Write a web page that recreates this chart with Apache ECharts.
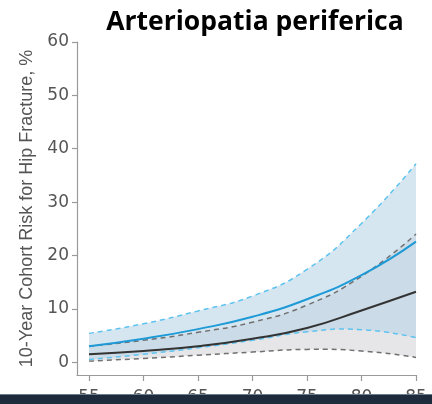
<!DOCTYPE html>
<html><head><meta charset="utf-8">
<script src="https://cdn.jsdelivr.net/npm/echarts@6/dist/echarts.min.js"></script>
<style>html,body{margin:0;padding:0;background:#fff}#c{width:432px;height:404px}</style>
</head><body><div id="c"></div>
<script>
const ages = [55, 60, 65, 70, 75, 80, 85];
const xTicks = [55, 60, 65, 70, 75, 80, 85];
const yTicks = [0, 10, 20, 30, 40, 50, 60];
const padMean = [3.0, 4.4, 6.2, 8.5, 11.8, 16.3, 22.6];
const padUpper = [5.4, 7.2, 9.6, 12.4, 17.4, 26.0, 37.2];
const padLower = [0.5, 1.5, 2.7, 4.1, 5.7, 6.1, 4.6];
const refMean = [1.5, 2.1, 3.0, 4.4, 6.4, 9.7, 13.2];
const refUpper = [3.0, 4.1, 5.6, 7.5, 10.7, 16.1, 24.0];
const refLower = [0.2, 0.7, 1.3, 1.9, 2.4, 2.1, 0.9];

// smooth curve through pixel points (same scheme as ECharts line smoothing)
function curve(pts, start, smooth) {
  smooth = smooth == null ? 0.5 : smooth;
  let d = start + pts[0][0] + ' ' + pts[0][1];
  let cp0 = pts[0];
  for (let i = 1; i < pts.length; i++) {
    const cur = pts[i], prev = pts[i - 1];
    let cp1 = cur, ncp0 = cur;
    if (i < pts.length - 1) {
      const next = pts[i + 1];
      const vx = next[0] - prev[0], vy = next[1] - prev[1];
      const l0 = Math.hypot(cur[0] - prev[0], cur[1] - prev[1]);
      const l1 = Math.hypot(next[0] - cur[0], next[1] - cur[1]);
      const r = l1 / (l0 + l1);
      cp1 = [cur[0] - vx * smooth * (1 - r), cur[1] - vy * smooth * (1 - r)];
      ncp0 = [cur[0] + vx * smooth * r, cur[1] + vy * smooth * r];
    }
    d += ' C' + cp0[0] + ' ' + cp0[1] + ' ' + cp1[0] + ' ' + cp1[1] + ' ' + cur[0] + ' ' + cur[1];
    cp0 = ncp0;
  }
  return d;
}
const toPx = (api, arr) => ages.map((a, i) => api.coord([a, arr[i]]));

function bandSeries(hi, lo, fill, opacity, z) {
  return {
    type: 'custom', coordinateSystem: 'cartesian2d', silent: true, z: z,
    data: [[ages[0], lo[0]]],
    renderItem: (params, api) => {
      const up = toPx(api, hi);
      const dn = toPx(api, lo).reverse();
      const d = curve(up, 'M') + ' ' + curve(dn, 'L') + ' Z';
      return { type: 'path', shape: { pathData: d }, style: { fill: fill, opacity: opacity, stroke: null } };
    }
  };
}
function lineSeries(arr, color, width, dash, z) {
  return {
    type: 'custom', coordinateSystem: 'cartesian2d', silent: true, z: z,
    data: [[ages[0], arr[0]]],
    renderItem: (params, api) => {
      const d = curve(toPx(api, arr), 'M');
      return { type: 'path', shape: { pathData: d },
        style: { fill: 'none', stroke: color, lineWidth: width, lineDash: dash || null, lineCap: 'butt' } };
    }
  };
}

const chart = echarts.init(document.getElementById('c'));
const dash = [5, 4];
const labelFont = { fontFamily: 'DejaVu Sans', fontSize: 17, color: '#555' };
chart.setOption({
  animation: false,
  title: {
    text: 'Arteriopatia periferica',
    left: 255, top: 9, textAlign: 'center', padding: 0,
    textStyle: { fontFamily: 'Open Sans', fontWeight: 'bold', fontSize: 26.5, color: '#000' }
  },
  grid: { left: 77, right: 16, top: 42, bottom: 29, containLabel: false, outerBoundsMode: 'none' },
  xAxis: {
    type: 'value', min: 53.9, max: 85,
    axisLine: { show: true, onZero: false, lineStyle: { color: '#9a9a9a', width: 1.2 } },
    axisTick: { show: true, customValues: xTicks, length: 6, lineStyle: { color: '#9a9a9a', width: 1.2 } },
    axisLabel: Object.assign({ customValues: xTicks, margin: 14 }, labelFont),
    splitLine: { show: false }
  },
  yAxis: {
    type: 'value', min: -2.4, max: 60,
    name: '10-Year Cohort Risk for Hip Fracture, %',
    nameLocation: 'middle', nameGap: 41, nameRotate: 90,
    nameTextStyle: { fontFamily: 'Liberation Sans', fontSize: 18, color: '#555' },
    axisLine: { show: true, onZero: false, lineStyle: { color: '#9a9a9a', width: 1.2 } },
    axisTick: { show: true, customValues: yTicks, length: 5, lineStyle: { color: '#9a9a9a', width: 1.2 } },
    axisLabel: Object.assign({ customValues: yTicks, margin: 8 }, labelFont),
    splitLine: { show: false }
  },
  series: [
    bandSeries(refUpper, refLower, '#e6e6e8', 1, 1),
    bandSeries(padUpper, padLower, 'rgb(182,210,230)', 0.56, 2),
    lineSeries(refUpper, '#707070', 1.5, dash, 5),
    lineSeries(refLower, '#707070', 1.5, dash, 5),
    lineSeries(padUpper, '#5ec3ef', 1.5, dash, 5),
    lineSeries(padLower, '#5ec3ef', 1.5, dash, 5),
    lineSeries(refMean, '#333333', 2, null, 6),
    lineSeries(padMean, '#1e9ad6', 2, null, 6)
  ],
  graphic: [
    { type: 'rect', left: 0, top: 394, shape: { width: 432, height: 10 }, style: { fill: '#1e2b3c' }, z: 100 },
    { type: 'rect', left: 0, top: 394, shape: { width: 432, height: 1 }, style: { fill: '#6c7c8c' }, z: 101 }
  ]
});
</script></body></html>
